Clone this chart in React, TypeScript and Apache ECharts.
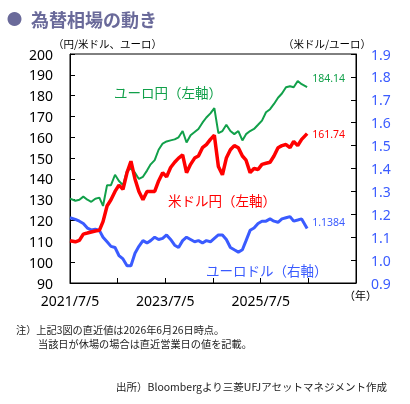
import React, { useEffect, useRef } from "react";
import * as echarts from "echarts";

const dates = [
  "2021-07-05", "2021-08-15", "2021-09-15", "2021-10-15", "2021-11-15", "2021-12-15",
  "2022-01-15", "2022-02-15", "2022-03-15", "2022-04-15", "2022-05-15", "2022-06-15",
  "2022-07-15", "2022-08-15", "2022-09-15", "2022-10-15", "2022-11-15", "2022-12-15",
  "2023-01-15", "2023-02-15", "2023-03-15", "2023-04-15", "2023-05-15", "2023-06-15",
  "2023-07-15", "2023-08-15", "2023-09-15", "2023-10-15", "2023-11-15", "2023-12-15",
  "2024-01-15", "2024-02-15", "2024-03-15", "2024-04-15", "2024-05-15", "2024-06-15",
  "2024-07-15", "2024-08-15", "2024-09-15", "2024-10-15", "2024-11-15", "2024-12-15",
  "2025-01-15", "2025-02-15", "2025-03-15", "2025-04-15", "2025-05-15", "2025-06-15",
  "2025-07-15", "2025-08-15", "2025-09-15", "2025-10-15", "2025-11-15", "2025-12-15",
  "2026-01-15", "2026-02-15", "2026-03-15", "2026-04-15", "2026-05-15", "2026-06-26",
];

// 米ドル円（左軸）
const usdJpy = [
  110.3, 109.8, 110.5, 113.5, 114, 114.5,
  115, 115.3, 119.5, 127, 130, 134,
  137, 135, 143, 148.5, 140, 134,
  130, 134, 134, 134, 139, 143,
  141, 145.5, 148, 150, 151.5, 143,
  147, 150, 151, 155, 156.5, 159,
  161, 146, 142, 150, 154, 156,
  155, 151, 149, 143, 145, 144.5,
  147, 147.5, 148, 151, 155, 156,
  156.5, 155, 158, 156, 159, 161.74,
];

// ユーロ円（左軸）
const eurJpy = [
  130.5, 129.5, 130, 131.5, 130, 129,
  130.5, 131, 127, 137, 137, 142,
  139, 137, 144, 145, 143, 140,
  141, 144, 147, 149, 154, 157,
  158, 158.5, 159, 160, 163, 157.5,
  161, 162.5, 164, 167, 169.5, 171.5,
  174, 162, 163, 166, 163, 161.5,
  163, 158.5, 161.5, 163, 164, 166,
  168, 172, 173.5, 176, 179, 181,
  184, 184.5, 184, 187, 185.5, 184.14,
];

// ユーロドル（右軸）
const eurUsd = [
  1.185, 1.178, 1.17, 1.16, 1.14, 1.132,
  1.135, 1.13, 1.1, 1.08, 1.06, 1.055,
  1.02, 1.005, 0.975, 0.975, 1.03, 1.06,
  1.085, 1.075, 1.085, 1.1, 1.09, 1.095,
  1.11, 1.09, 1.065, 1.055, 1.085, 1.1,
  1.09, 1.08, 1.085, 1.075, 1.085, 1.08,
  1.095, 1.11, 1.11, 1.09, 1.055, 1.045,
  1.035, 1.045, 1.085, 1.13, 1.14, 1.16,
  1.17, 1.17, 1.18, 1.17, 1.165, 1.18,
  1.185, 1.19, 1.17, 1.175, 1.18, 1.1384,
];

const xTickLabels = ["2021/7/5", "", "2023/7/5", "", "2025/7/5", "", ""];

const GREEN = "#11A04A";
const RED = "#FF0000";
const BLUE = "#3A5BFF";
const JP = '"Noto Sans CJK JP", "Noto Sans", sans-serif';
const NUM = '"Noto Sans", "Noto Sans CJK JP", sans-serif';

function toYears(d: string): number {
  const start = Date.UTC(2021, 6, 5);
  const [y, m, dd] = d.split("-").map(Number);
  return (Date.UTC(y, m - 1, dd) - start) / (365.25 * 86400000);
}

export default function App() {
  const ref = useRef<HTMLDivElement>(null);
  useEffect(() => {
    const chart = echarts.init(ref.current!, null, { renderer: "svg" });
    const xs = dates.map(toYears);
    const mk = (arr: number[]) => arr.map((v, i) => [xs[i], v]);
    const txt = (text: string, x: number, y: number, fill: string, fontSize: number, extra: any = {}) => ({
      type: "text",
      x,
      y,
      silent: true,
      style: {
        text,
        fill,
        fontSize,
        fontFamily: JP,
        verticalAlign: "middle",
        align: "left",
        lineHeight: fontSize + 1,
        ...extra,
      },
    });
    chart.setOption({
      animation: false,
      textStyle: { fontFamily: NUM },
      grid: {
        left: 70,
        top: 54,
        width: 286,
        height: 229,
        show: true,
        borderColor: "#000",
        borderWidth: 1,
        containLabel: false,
      },
      xAxis: {
        type: "value",
        min: 0,
        max: 6,
        interval: 1,
        axisLine: { show: true, lineStyle: { color: "#000", width: 1 } },
        axisTick: { show: true, inside: true, length: 5, lineStyle: { color: "#000" } },
        splitLine: { show: false },
        axisLabel: {
          formatter: (v: number) => xTickLabels[Math.round(v)] || "",
          fontSize: 14,
          color: "#000",
          margin: 10,
          fontFamily: NUM,
        },
      },
      yAxis: [
        {
          type: "value",
          min: 90,
          max: 200,
          interval: 10,
          axisLine: { show: true, lineStyle: { color: "#000", width: 1 } },
          axisTick: { show: true, inside: true, length: 5, lineStyle: { color: "#000" } },
          splitLine: { show: false },
          axisLabel: { fontSize: 14, color: "#000", margin: 17, fontFamily: NUM },
        },
        {
          type: "value",
          position: "right",
          min: 0.9,
          max: 1.9,
          interval: 0.1,
          axisLine: { show: true, lineStyle: { color: "#000", width: 1 } },
          axisTick: { show: true, inside: true, length: 5, lineStyle: { color: "#000" } },
          splitLine: { show: false },
          axisLabel: {
            fontSize: 14,
            color: BLUE,
            margin: 15,
            fontFamily: NUM,
            formatter: (v: number) => v.toFixed(1),
          },
        },
      ],
      series: [
        {
          name: "ユーロ円（左軸）",
          type: "line",
          yAxisIndex: 0,
          data: mk(eurJpy),
          showSymbol: false,
          symbol: "none",
          lineStyle: { color: GREEN, width: 2 },
          itemStyle: { color: GREEN },
          endLabel: {
            show: true,
            formatter: (p: any) => String(p.value[1]),
            color: GREEN,
            fontSize: 10.5,
            fontFamily: NUM,
            distance: 5,
            offset: [0, -9],
          },
        },
        {
          name: "ユーロドル（右軸）",
          type: "line",
          yAxisIndex: 1,
          data: mk(eurUsd),
          showSymbol: false,
          symbol: "none",
          lineStyle: { color: BLUE, width: 3 },
          itemStyle: { color: BLUE },
          endLabel: {
            show: true,
            formatter: (p: any) => String(p.value[1]),
            color: BLUE,
            fontSize: 10.5,
            fontFamily: NUM,
            distance: 5,
            offset: [0, -6],
          },
        },
        {
          name: "米ドル円（左軸）",
          type: "line",
          yAxisIndex: 0,
          data: mk(usdJpy),
          showSymbol: false,
          symbol: "none",
          lineStyle: { color: RED, width: 3.5 },
          itemStyle: { color: RED },
          endLabel: {
            show: true,
            formatter: (p: any) => String(p.value[1]),
            color: RED,
            fontSize: 10.5,
            fontFamily: NUM,
            distance: 5,
          },
        },
      ],
      graphic: [
        { type: "circle", shape: { cx: 14.5, cy: 19, r: 7 }, style: { fill: "#6A6A9A" }, silent: true },
        txt("為替相場の動き", 31, 19, "#6A6A9A", 18, { fontWeight: "bold" }),
        txt("（円/米ドル、ユーロ）", 53, 43, "#000", 10.5),
        txt("（米ドル/ユーロ）", 283, 43, "#000", 10.5),
        txt("ユーロ円（左軸）", 114, 92, GREEN, 13.5),
        txt("米ドル円（左軸）", 168, 200, RED, 13.5),
        txt("ユーロドル（右軸）", 206, 270, BLUE, 13.5),
        txt("（年）", 344, 295, "#000", 11),
        txt("注）上記3図の直近値は2026年6月26日時点。", 16, 329, "#222", 10.2),
        txt("当該日が休場の場合は直近営業日の値を記載。", 38, 343, "#222", 10.2),
        txt("出所）Bloombergより三菱UFJアセットマネジメント作成", 116, 386, "#222", 10.5),
      ],
    });
    return () => chart.dispose();
  }, []);
  return <div ref={ref} style={{ position: "fixed", left: 0, top: 0, width: 410, height: 404 }} />;
}
